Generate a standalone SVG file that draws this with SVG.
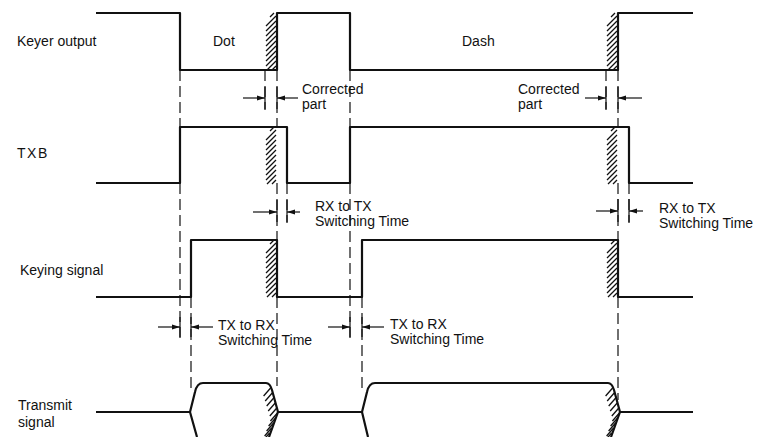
<svg xmlns="http://www.w3.org/2000/svg" xmlns:xlink="http://www.w3.org/1999/xlink" width="774" height="437" viewBox="0 0 774 437">
<style>
text{font-family:"Liberation Sans",Arial,sans-serif;font-size:14px;fill:#111}
.w{fill:none;stroke:#111;stroke-width:2.2;stroke-linejoin:round}
.d{fill:none;stroke:#111;stroke-width:1.2;stroke-dasharray:11 5}
.t{fill:none;stroke:#111;stroke-width:1.2}
.a{fill:none;stroke:#111;stroke-width:1.2;marker-end:url(#ah)}
.hs{fill:none;stroke:#111;stroke-width:1.3}
</style>
<defs>
<path id="hc" class="hs" d="M4,4 L8,0 M0,13 L10,3 M0,18 L10,8 M0,23 L10,13 M0,28 L10,18 M0,33 L10,23 M0,38 L10,28 M0,43 L10,33 M0,48 L10,38 M0,53 L10,43 M1,57 L10,48 M6,57 L10,53"/>
<path id="ht" class="hs" d="M270.6,388 L263.6,396 M272.2,393 L265.2,401 M273.7,398 L266.7,406 M275.2,403 L268.2,411 M276.8,408 L269.8,416 M277.4,413 L270.4,421 M275.6,418 L268.6,426 M273.6,423 L266.6,431 M271.6,428 L264.6,436 M269.6,433 L262.6,441"/>
<marker id="ah" markerWidth="8" markerHeight="6" refX="8" refY="3" orient="auto" markerUnits="userSpaceOnUse">
<path d="M0,0.5 L8,3 L0,5.5 Z" fill="#111"/>
</marker>
</defs>
<rect width="774" height="437" fill="#fff"/>

<g id="labels">
<text x="17" y="46">Keyer output</text>
<text x="17" y="158" letter-spacing="1.5">TXB</text>
<text x="20" y="275">Keying signal</text>
<text x="18" y="410">Transmit</text>
<text x="18" y="427">signal</text>
<text x="213" y="46">Dot</text>
<text x="462" y="46">Dash</text>
</g>

<g id="hatches">
<use xlink:href="#hc" href="#hc" transform="translate(266,13)"/>
<use xlink:href="#hc" href="#hc" transform="translate(266,127)"/>
<use xlink:href="#hc" href="#hc" transform="translate(266,240)"/>
<use xlink:href="#hc" href="#hc" transform="translate(607,13)"/>
<use xlink:href="#hc" href="#hc" transform="translate(607,127)"/>
<use xlink:href="#hc" href="#hc" transform="translate(607,240)"/>
<use xlink:href="#ht" href="#ht"/>
<use xlink:href="#ht" href="#ht" transform="translate(342,0)"/>
</g>

<g id="keyer-output">
<path class="w" d="M96,13 L180,13 L180,70 L277,70 L277,13 L350,13 L350,70 L618,70 L618,13 L693,13"/>
</g>

<g id="txb">
<path class="w" d="M96,183 L180,183 L180,127 L287,127 L287,183 L350,183 L350,127 L629,127 L629,183 L693,183"/>
</g>

<g id="keying-signal">
<path class="w" d="M96,297 L191,297 L191,240 L277,240 L277,297 L362,297 L362,240 L618,240 L618,297 L693,297"/>
</g>

<g id="transmit-signal">
<path class="w" d="M96,412 L190,412 L195,392 Q197,383 203,383 L266,383 Q270,383 272,390 L278,412 L362,412 L367,392 Q369,383 375,383 L608,383 Q612,383 614,390 L620,412 L693,412"/>
<path class="w" d="M190,412 L197,437 M278,412 L269,437 M362,412 L368,437 M620,412 L611,437"/>
</g>

<g id="connectors">
<path class="d" d="M180,70 V127 M180,183 V338"/>
<path class="d" d="M191,297 V390"/>
<path class="d" d="M265,70 V110 M606,70 V110"/>
<path class="d" d="M277,70 V127 M277,183 V240 M277,297 V386"/>
<path class="d" d="M287,183 V223"/>
<path class="d" d="M350,70 V127 M350,183 V338"/>
<path class="d" d="M362,297 V392"/>
<path class="d" d="M618,70 V127 M618,183 V240 M618,297 V400"/>
<path class="d" d="M629,183 V223"/>
<path class="t" d="M265,87 V109 M277,87 V109 M606,87 V109 M618,87 V109 M277,200 V222 M287,200 V222 M618,199 V222 M629,199 V222 M180,317 V337 M191,317 V337 M350,317 V337 M362,317 V337"/>
<path class="a" d="M243,98 H265"/>
<path class="a" d="M298,98 H277"/>
<path class="a" d="M585,98 H606"/>
<path class="a" d="M642,98 H618"/>
<path class="a" d="M253,212 H277"/>
<path class="a" d="M300,212 H287"/>
<path class="a" d="M596,211 H618"/>
<path class="a" d="M643,211 H629"/>
<path class="a" d="M158,327 H180"/>
<path class="a" d="M213,327 H191"/>
<path class="a" d="M328,327 H350"/>
<path class="a" d="M384,327 H362"/>
</g>

<g id="annotations">
<text x="302" y="94">Corrected</text>
<text x="302" y="109">part</text>
<text x="518" y="94">Corrected</text>
<text x="518" y="109">part</text>
<text x="315" y="211">RX to TX</text>
<text x="315" y="226">Switching Time</text>
<text x="659" y="213">RX to TX</text>
<text x="659" y="228">Switching Time</text>
<text x="218" y="330">TX to RX</text>
<text x="218" y="345">Switching Time</text>
<text x="390" y="329">TX to RX</text>
<text x="390" y="344">Switching Time</text>
</g>
</svg>
